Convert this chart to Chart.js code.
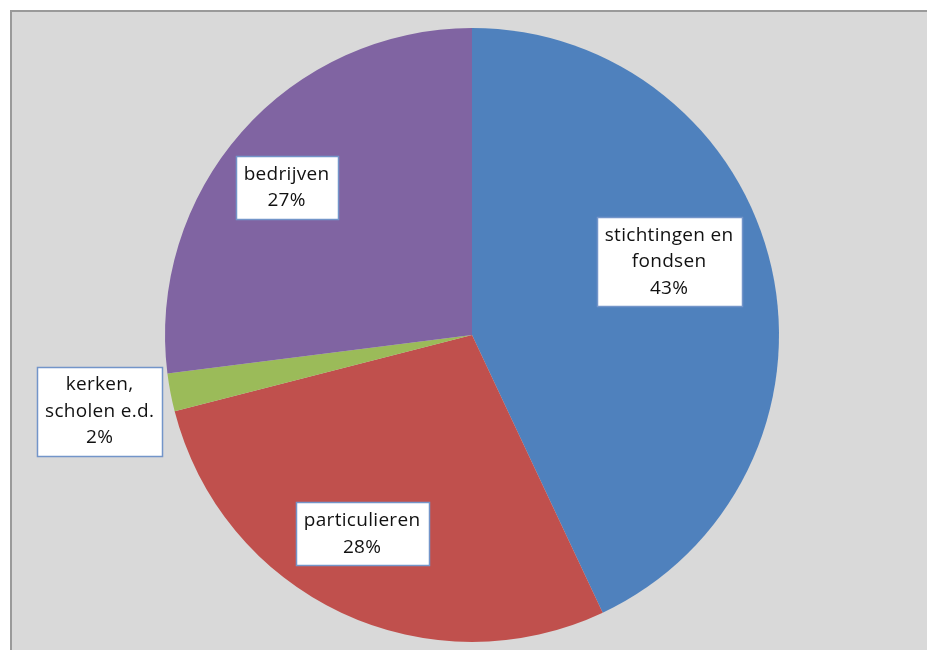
<!DOCTYPE html>
<html>
<head>
<meta charset="utf-8">
<script src="https://cdn.jsdelivr.net/npm/chart.js@4/dist/chart.umd.min.js"></script>
<style>
html,body{margin:0;padding:0;background:#fff;}
#wrap{position:relative;width:927px;height:650px;}
</style>
</head>
<body>
<div id="wrap"><canvas id="c" width="927" height="650"></canvas></div>
<script>
const categories = ["stichtingen en fondsen", "particulieren", "kerken, scholen e.d.", "bedrijven"];
const labelLines = [["stichtingen en", "fondsen"], ["particulieren"], ["kerken,", "scholen e.d."], ["bedrijven"]];
const values = [43, 28, 2, 27];
const colors = ["#4f81bd", "#c0504d", "#9bbb59", "#8064a2"];
// label box centres, relative to pie centre, in units of radius
const labelOffsets = [[0.642, -0.239], [-0.358, 0.648], [-1.213, 0.248], [-0.604, -0.480]];

const frame = {
  id: 'frame',
  beforeDraw(chart) {
    const ctx = chart.ctx;
    ctx.save();
    ctx.fillStyle = '#ffffff';
    ctx.fillRect(0, 0, chart.width, chart.height);
    ctx.fillStyle = '#d9d9d9';
    ctx.fillRect(11, 11, chart.width, chart.height);
    ctx.strokeStyle = '#9a9a9a';
    ctx.lineWidth = 2;
    ctx.beginPath();
    ctx.moveTo(11, chart.height + 5);
    ctx.lineTo(11, 11);
    ctx.lineTo(chart.width + 5, 11);
    ctx.stroke();
    ctx.restore();
  }
};

const boxLabels = {
  id: 'boxLabels',
  afterDatasetsDraw(chart) {
    const ctx = chart.ctx;
    const meta = chart.getDatasetMeta(0);
    const total = values.reduce((a, b) => a + b, 0);
    ctx.save();
    ctx.font = '19px "Open Sans", sans-serif';
    if ('letterSpacing' in ctx) ctx.letterSpacing = '0.3px';
    ctx.textAlign = 'center';
    ctx.textBaseline = 'middle';
    meta.data.forEach((arc, i) => {
      const cx = arc.x, cy = arc.y, r = arc.outerRadius;
      const x = cx + labelOffsets[i][0] * r;
      const y = cy + labelOffsets[i][1] * r;
      const lines = labelLines[i].concat([Math.round(values[i] / total * 100) + '%']);
      const lh = 26.5;
      let w = 0;
      lines.forEach(l => { w = Math.max(w, ctx.measureText(l).width); });
      const bw = Math.round(w + 16);
      const bh = Math.round((lines.length - 1) * lh + 36);
      const bx = Math.round(x - bw / 2) + 0.5;
      const by = Math.round(y - bh / 2) + 0.5;
      ctx.fillStyle = '#ffffff';
      ctx.fillRect(bx, by, bw, bh);
      ctx.strokeStyle = '#7395c9';
      ctx.lineWidth = 1.5;
      ctx.strokeRect(bx, by, bw, bh);
      ctx.fillStyle = '#111111';
      lines.forEach((l, k) => {
        ctx.fillText(l, x, y - (lines.length - 1) * lh / 2 + k * lh);
      });
    });
    ctx.restore();
  }
};

new Chart(document.getElementById('c'), {
  type: 'pie',
  data: {
    labels: categories,
    datasets: [{
      data: values,
      backgroundColor: colors,
      borderWidth: 0,
      hoverOffset: 0
    }]
  },
  options: {
    responsive: false,
    animation: false,
    events: [],
    layout: { padding: { left: 165, right: 148, top: 28, bottom: 8 } },
    plugins: {
      legend: { display: false },
      tooltip: { enabled: false }
    }
  },
  plugins: [frame, boxLabels]
});
</script>
</body>
</html>
